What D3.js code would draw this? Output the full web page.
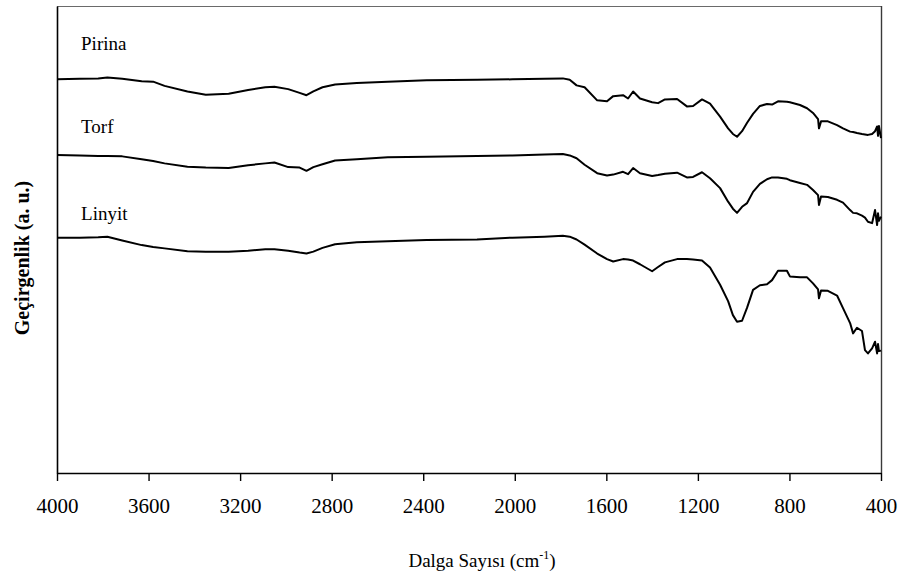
<!DOCTYPE html>
<html>
<head>
<meta charset="utf-8">
<script src="https://cdn.jsdelivr.net/npm/d3@7"></script>
<style>
  html, body { margin: 0; padding: 0; background: #fff; }
  svg { display: block; }
  text { font-family: "Liberation Serif", "Times New Roman", serif; fill: #000; }
</style>
</head>
<body>
<svg id="chart" width="900" height="576"></svg>
<script>
// ---- data ----
const wavenumbers = [4000, 3900, 3820, 3780, 3715, 3630, 3580, 3530, 3430, 3350, 3250, 3165, 3090, 3050, 2990, 2940, 2910, 2880, 2840, 2785, 2690, 2555, 2385, 2165, 2010, 1870, 1790, 1760, 1730, 1695, 1640, 1597, 1570, 1527, 1505, 1483, 1453, 1400, 1374, 1344, 1291, 1248, 1221, 1182, 1147, 1103, 1068, 1047, 1029, 1007, 985, 959, 929, 898, 876, 850, 811, 798, 754, 723, 697, 675, 671, 662, 632, 592, 566, 535, 522, 505, 483, 470, 457, 439, 426, 417, 413, 409, 400];

const pirina = [84.3, 84.4, 84.5, 84.7, 84.4, 83.9, 83.8, 82.9, 81.7, 81.0, 81.2, 82.0, 82.6, 82.7, 82.2, 81.4, 80.9, 81.7, 82.6, 83.2, 83.5, 83.8, 84.1, 84.2, 84.3, 84.4, 84.5, 84.2, 83.0, 82.6, 79.8, 79.6, 80.7, 80.9, 80.2, 81.7, 80.2, 79.4, 79.2, 80.0, 80.1, 78.5, 78.6, 80.0, 79.1, 76.3, 73.8, 72.6, 72.0, 73.2, 75.0, 76.9, 78.6, 79.0, 78.9, 79.6, 79.5, 79.4, 78.8, 78.1, 77.1, 75.8, 73.8, 75.3, 75.3, 74.5, 73.8, 73.1, 73.0, 72.8, 72.6, 72.5, 72.4, 72.6, 73.2, 74.2, 72.2, 74.3, 71.7];

const torf = [68.1, 68.0, 67.9, 67.9, 67.8, 67.2, 66.8, 66.3, 65.6, 65.4, 65.3, 65.9, 66.3, 66.5, 65.5, 65.4, 64.7, 65.5, 66.1, 66.9, 67.2, 67.6, 67.7, 67.9, 68.0, 68.2, 68.3, 68.0, 67.4, 66.0, 64.2, 63.7, 63.9, 64.5, 64.0, 65.3, 64.2, 63.6, 63.8, 64.1, 64.3, 63.3, 63.4, 64.4, 63.1, 61.0, 58.1, 56.6, 55.7, 57.0, 57.8, 60.2, 61.9, 62.9, 63.3, 63.3, 63.0, 62.7, 62.1, 61.7, 60.6, 59.5, 57.4, 59.2, 59.1, 58.5, 57.9, 56.3, 55.7, 55.6, 55.1, 54.7, 53.8, 53.5, 56.3, 53.1, 55.6, 54.0, 54.9];

const linyit = [50.4, 50.4, 50.5, 50.6, 49.8, 48.8, 48.4, 48.1, 47.5, 47.4, 47.4, 47.6, 47.9, 47.9, 47.6, 47.2, 47.0, 47.4, 48.2, 49.0, 49.4, 49.6, 49.9, 50.0, 50.4, 50.6, 50.8, 50.6, 50.0, 48.9, 47.0, 45.8, 45.3, 45.8, 45.7, 45.5, 44.7, 43.2, 44.1, 45.1, 45.8, 45.8, 45.7, 45.5, 44.0, 40.3, 36.8, 33.8, 32.4, 32.6, 35.4, 39.2, 40.2, 40.4, 41.3, 43.3, 43.3, 42.1, 41.9, 41.9, 40.6, 39.3, 37.4, 39.1, 39.0, 38.0, 35.3, 32.1, 29.9, 31.1, 30.4, 26.3, 25.6, 26.7, 28.1, 25.6, 27.6, 26.1, 26.2];

const seriesNames = ["Pirina", "Torf", "Linyit"];
const seriesValues = [pirina, torf, linyit];
const xTicks = [4000, 3600, 3200, 2800, 2400, 2000, 1600, 1200, 800, 400];
const xTitle = "Dalga Sayısı (cm";
const xTitleSup = "-1";
const yTitle = "Geçirgenlik (a. u.)";

// ---- layout ----
const m = { left: 57, right: 881, top: 6, bottom: 473 };
const labelOffsets = [29, 22, 18];

const svg = d3.select("#chart");
const x = d3.scaleLinear().domain([4000, 400]).range([m.left, m.right]);
const y = d3.scaleLinear().domain([0, 100]).range([m.bottom, m.top]);

// frame (top/right lighter)
svg.append("line").attr("x1", m.left).attr("x2", m.right).attr("y1", m.top + 0.5).attr("y2", m.top + 0.5)
  .attr("stroke", "#6a6a6a").attr("stroke-width", 1.2);
svg.append("line").attr("x1", m.right + 0.5).attr("x2", m.right + 0.5).attr("y1", m.top).attr("y2", m.bottom)
  .attr("stroke", "#3a3a3a").attr("stroke-width", 1.4);

// curves
const line = d3.line().x((d, i) => x(wavenumbers[i])).y(d => y(d));
seriesValues.forEach((vals, k) => {
  svg.append("path").datum(vals)
    .attr("d", line)
    .attr("fill", "none")
    .attr("stroke", "#000")
    .attr("stroke-width", 2)
    .attr("stroke-linejoin", "round");
  svg.append("text")
    .attr("x", x(3895))
    .attr("y", y(vals[0]) - labelOffsets[k])
    .attr("font-size", 19)
    .text(seriesNames[k]);
});

// axes
const xAxis = d3.axisBottom(x).tickValues(xTicks).tickSize(8).tickSizeOuter(0).tickPadding(17)
  .tickFormat(d3.format("d"));
const gx = svg.append("g").attr("transform", `translate(0,${m.bottom})`).call(xAxis);
gx.select(".domain").attr("stroke", "#000").attr("stroke-width", 1.6);
gx.selectAll(".tick line").attr("stroke", "#000").attr("stroke-width", 1.4);
gx.selectAll(".tick text").attr("font-size", 21)
  .attr("font-family", "'Liberation Serif', 'Times New Roman', serif").attr("fill", "#000");

const yAxis = d3.axisLeft(y).tickValues([]).tickSizeOuter(0);
const gy = svg.append("g").attr("transform", `translate(${m.left},0)`).call(yAxis);
gy.select(".domain").attr("stroke", "#000").attr("stroke-width", 1.6);

// axis titles
const xt = svg.append("text").attr("x", 482).attr("y", 567).attr("text-anchor", "middle").attr("font-size", 19);
xt.append("tspan").text(xTitle);
xt.append("tspan").attr("font-size", 12).attr("dy", -8).text(xTitleSup);
xt.append("tspan").attr("dy", 8).text(")");

svg.append("text")
  .attr("transform", "translate(29,258) rotate(-90)")
  .attr("text-anchor", "middle")
  .attr("font-size", 20)
  .attr("font-weight", "bold")
  .text(yTitle);
</script>
</body>
</html>
